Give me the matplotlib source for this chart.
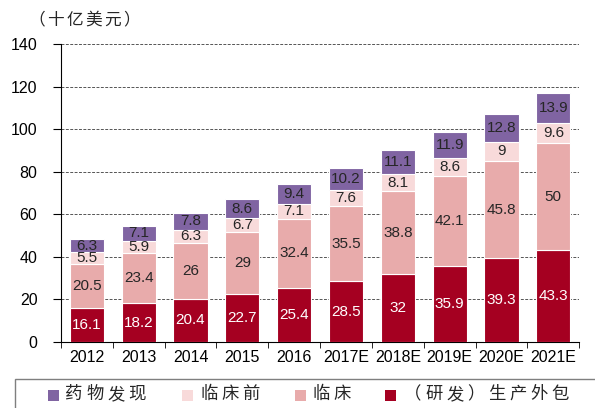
import numpy as np
import matplotlib
matplotlib.use("Agg")
import matplotlib.pyplot as plt
from matplotlib.patches import Rectangle

plt.rcParams['font.family'] = ['Liberation Sans', 'Noto Sans CJK SC', 'DejaVu Sans']
CJK = ['Noto Sans CJK SC', 'DejaVu Sans']

years = ['2012', '2013', '2014', '2015', '2016', '2017E', '2018E', '2019E', '2020E', '2021E']
cmo = [16.1, 18.2, 20.4, 22.7, 25.4, 28.5, 32, 35.9, 39.3, 43.3]
clinical = [20.5, 23.4, 26, 29, 32.4, 35.5, 38.8, 42.1, 45.8, 50]
preclinical = [5.5, 5.9, 6.3, 6.7, 7.1, 7.6, 8.1, 8.6, 9, 9.6]
discovery = [6.3, 7.1, 7.8, 8.6, 9.4, 10.2, 11.1, 11.9, 12.8, 13.9]

series = [
    ('（研发）生产外包', cmo, '#A50021', 'white'),
    ('临床', clinical, '#E8ABAB', '#262626'),
    ('临床前', preclinical, '#F8DADA', '#262626'),
    ('药物发现', discovery, '#8064A2', '#262626'),
]

W, H = 595, 408
fig = plt.figure(figsize=(W / 100, H / 100), dpi=100)
ax = fig.add_axes([0.1025, 0.162, 0.871, 0.730])

x = np.arange(len(years))
bottom = np.zeros(len(years))
for name, vals, color, tcolor in series:
    vals = np.array(vals, dtype=float)
    ax.bar(x, vals, 0.66, bottom=bottom, color=color,
           edgecolor='white', linewidth=0.8, zorder=3, label=name)
    for xi, b, v in zip(x, bottom, vals):
        ax.text(xi, b + v / 2, f'{v:g}', ha='center', va='center',
                fontsize=11, color=tcolor, zorder=4)
    bottom += vals

ax.set_xlim(-0.5, len(years) - 0.5)
ax.set_ylim(0, 140)
ax.set_yticks(range(0, 141, 20))
ax.tick_params(axis='y', labelsize=11.5, length=6, pad=11, direction='out')
ax.set_xticks(x)
ax.set_xticklabels(years, fontsize=11.5)
ax.tick_params(axis='x', length=0, pad=6)
ax.set_xticks(np.arange(-0.5, len(years), 1), minor=True)
ax.tick_params(axis='x', which='minor', length=4, direction='out')
ax.yaxis.grid(True, linestyle=(0, (3, 1.5)), color='#555555', linewidth=0.7, zorder=0)
ax.spines['top'].set_visible(False)
ax.spines['right'].set_visible(False)


def spaced_text(x_px, y_px, s, pitch, size):
    # place CJK text one character at a time to mimic the wide letter spacing
    for i, ch in enumerate(s):
        fig.text((x_px + i * pitch) / W, 1 - y_px / H, ch, fontsize=size,
                 family=CJK, ha='left', va='center', color='#262626')


spaced_text(28, 20, '（十亿美元）', 19, 12)

# legend box at the bottom
fig.patches.append(Rectangle((15 / W, -0.05), 1.0, (H - 379) / H + 0.05,
                             transform=fig.transFigure, fill=False,
                             edgecolor='#7f7f7f', linewidth=1.0))
legend_x = {'药物发现': (48, 65), '临床前': (182, 200), '临床': (295, 312),
            '（研发）生产外包': (385, 404)}
for name, vals, color, tcolor in series:
    sq, tx = legend_x[name]
    fig.patches.append(Rectangle((sq / W, 1 - 400.5 / H), 11 / W, 11 / H,
                                 transform=fig.transFigure, facecolor=color,
                                 edgecolor='none'))
    spaced_text(tx, 394, name, 21, 12.5)

fig.savefig('out.png', dpi=100)
